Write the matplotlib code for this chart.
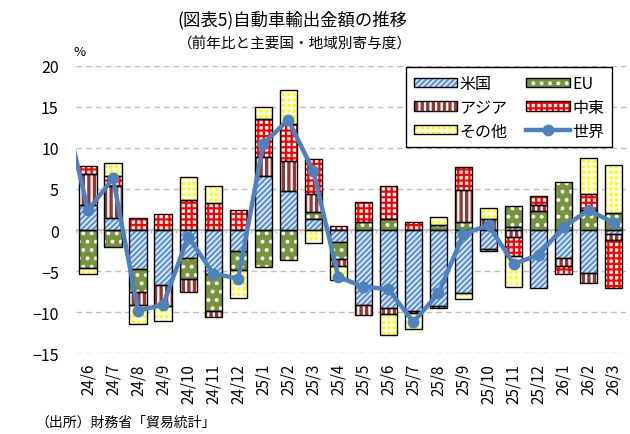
import numpy as np
import matplotlib
matplotlib.use("Agg")
import matplotlib.pyplot as plt
from matplotlib.patches import Patch
from matplotlib.lines import Line2D

plt.rcParams['font.family'] = ['Noto Sans CJK JP', 'DejaVu Sans']
plt.rcParams['hatch.linewidth'] = 1.6

months = ['24/6', '24/7', '24/8', '24/9', '24/10', '24/11', '24/12',
          '25/1', '25/2', '25/3', '25/4', '25/5', '25/6', '25/7', '25/8',
          '25/9', '25/10', '25/11', '25/12', '26/1', '26/2', '26/3']

us = [3.0, 1.5, -4.8, -6.7, -3.4, -5.3, -2.5, 6.6, 4.8, 1.3, -1.5,
      -9.1, -9.5, -9.8, -9.3, -7.7, -2.3, 0.4, -7.1, -3.4, -5.2, -0.5]
eu = [-4.6, -2.1, -2.8, 0.0, -2.6, -4.6, -2.4, -4.5, -3.7, 0.9, -2.0,
      1.0, 1.4, 0.0, 0.6, 1.0, -0.2, 2.5, 2.3, 5.9, 2.4, 2.1]
asia = [3.8, 3.9, -1.5, -2.5, -1.5, -0.7, 0.0, 2.3, 3.6, 2.2, -0.9,
        -1.2, -0.7, -0.3, -0.2, 3.9, 1.3, -0.9, 0.7, -1.0, -1.2, -0.7]
mideast = [1.0, 1.2, 1.5, 2.0, 3.7, 3.3, 2.5, 4.6, 4.5, 4.3, 0.5,
           2.4, 4.0, 1.0, 0.0, 2.8, 0.0, -2.2, 1.1, -0.9, 2.0, -5.8]
other = [-0.8, 1.6, -2.3, -1.9, 2.8, 2.1, -3.4, 1.5, 4.2, -1.6, -1.7,
         0.0, -2.6, -2.0, 1.0, -0.7, 1.4, -3.8, 0.0, 0.0, 4.4, 5.8]
# first value is 24/5, just outside the plotted range (line enters from the left)
world = [15.5, 2.4, 6.3, -9.8, -9.1, -0.8, -5.3, -5.9, 10.5, 13.4, 7.2, -5.7,
         -6.9, -7.2, -11.2, -7.7, -0.5, 0.6, -4.1, -3.05, 0.4, 2.4, 0.9]

# name, values, face colour, hatch, hatch colour
series = [
    ("米国", us, "#E4EEF9", "//////", "#5F93D3"),
    ("EU", eu, "#77933C", "..", "white"),
    ("アジア", asia, "#953735", "|||", "white"),
    ("中東", mideast, "white", "+++", "#FF0000"),
    ("その他", other, "#FFFF00", "+++", "white"),
]
line_color = "#4F81BD"

fig = plt.figure(figsize=(6.3, 4.35), dpi=100)
ax = fig.add_axes([75.5 / 630, 1 - 354.3 / 435, (626.2 - 75.5) / 630, (354.3 - 66.7) / 435])

x = np.arange(len(months))
width = 0.69
pos_base = np.zeros(len(months))
neg_base = np.zeros(len(months))
for name, vals, face, hatch, hcol in series:
    v = np.array(vals)
    bottom = np.where(v >= 0, pos_base, neg_base)
    m = v != 0
    ax.bar(x[m], v[m], width, bottom=bottom[m], color=face, hatch=hatch,
           edgecolor=hcol, linewidth=0, zorder=3)
    ax.bar(x[m], v[m], width, bottom=bottom[m], facecolor="none",
           edgecolor="black", linewidth=1.0, zorder=4)
    pos_base += np.where(v > 0, v, 0)
    neg_base += np.where(v < 0, v, 0)

xw = np.arange(-1, len(months))
ax.plot(xw, world, color=line_color, lw=3.2, marker="o", ms=7.5, zorder=5)

ax.set_xlim(-0.5, len(months) - 0.5)
ax.set_ylim(-15, 20)
ax.set_yticks(range(-15, 21, 5))
ax.yaxis.grid(True, color="#BFBFBF", lw=1, ls=(0, (4, 3)), zorder=0)
ax.axhline(0, color="#BFBFBF", lw=1.3, zorder=1)
ax.vlines(np.arange(-0.5, len(months)), -0.4, 0, color="#BFBFBF", lw=1, zorder=1)
for s in ax.spines.values():
    s.set_visible(False)
ax.set_xticks(x)
ax.set_xticklabels(months, rotation=90, fontsize=11)
ax.tick_params(axis="x", length=0, pad=7)
ax.tick_params(axis="y", length=0, pad=12, labelsize=11.5)

handles = []
for name, vals, face, hatch, hcol in series:
    handles.append((Patch(facecolor=face, hatch=hatch, edgecolor=hcol, lw=0),
                    Patch(facecolor="none", edgecolor="black", lw=1.0)))
handles.append(Line2D([], [], color=line_color, lw=3.2, marker="o", ms=7.5))
names = [s[0] for s in series] + ["世界"]
order = [0, 2, 4, 1, 3, 5]
leg = ax.legend([handles[i] for i in order], [names[i] for i in order], ncol=2,
                loc="upper right", bbox_to_anchor=(612 / 630, 1 - 68 / 435),
                bbox_transform=fig.transFigure, borderaxespad=0,
                fontsize=11.5, frameon=True,
                fancybox=False, edgecolor="black", framealpha=1,
                handlelength=2.7, handleheight=0.5, handletextpad=0.15,
                columnspacing=1.2, labelspacing=0.42, borderpad=0.5)
leg.get_frame().set_linewidth(1.0)
leg.set_zorder(6)

fig.text(292 / 630, 1 - 20 / 435, "(図表5)自動車輸出金額の推移", ha="center", va="center", fontsize=12.5)
fig.text(295 / 630, 1 - 44 / 435, "（前年比と主要国・地域別寄与度）", ha="center", va="center", fontsize=10.5)
fig.text(80 / 630, 1 - 53 / 435, "%", ha="center", va="center", fontsize=9.5)
fig.text(35 / 630, 1 - 423 / 435, "（出所）財務省「貿易統計」", ha="left", va="center", fontsize=10)

fig.savefig("out.png", dpi=100)
